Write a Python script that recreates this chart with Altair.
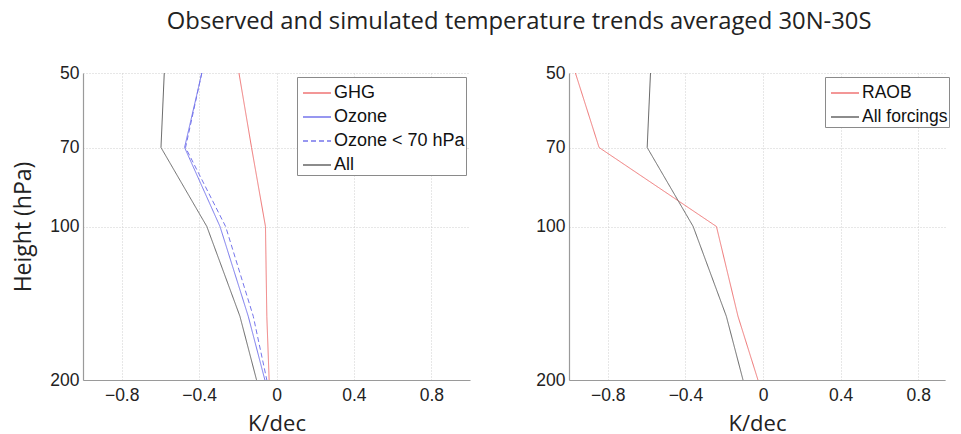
import altair as alt
import pandas as pd

# pressure levels (hPa)
levels = [50, 70, 100, 150, 200]

# left panel: simulated trends (K/dec)
ghg = [-0.194, -0.129, -0.057, -0.050, -0.038]
ozone = [-0.386, -0.475, -0.292, -0.146, -0.060]
ozone70 = [-0.386, -0.470, -0.263, -0.120, -0.050]
all_left = [-0.580, -0.597, -0.360, -0.189, -0.103]

# right panel: observed vs all forcings (K/dec)
raob = [-0.967, -0.845, -0.240, -0.129, -0.026]
all_forcings = [-0.580, -0.597, -0.360, -0.189, -0.103]

left_series = ["GHG", "Ozone", "Ozone < 70 hPa", "All"]
left_values = [ghg, ozone, ozone70, all_left]
left_colors = ["#ef7676", "#7676ec", "#7676ec", "#676767"]
left_dash = [[1, 0], [1, 0], [5, 3], [1, 0]]

right_series = ["RAOB", "All forcings"]
right_values = [raob, all_forcings]
right_colors = ["#ef7676", "#676767"]
right_dash = [[1, 0], [1, 0]]

x_ticks = [-0.8, -0.4, 0, 0.4, 0.8]
y_ticks = [50, 70, 100, 200]

TITLE = "Observed and simulated temperature trends averaged 30N-30S"


def make_df(series, values):
    rows = []
    for s, vals in zip(series, values):
        for p, v in zip(levels, vals):
            rows.append({"series": s, "p": p, "value": v})
    return pd.DataFrame(rows)


def panel(series, values, colors, dashes, legend_x, ytitle, width, xmax, legend_font):
    df = make_df(series, values)
    leg = alt.Legend(
        title=None,
        orient="none",
        legendX=legend_x,
        legendY=4,
        symbolType="stroke",
        symbolSize=784,
        symbolStrokeWidth=1.5,
        symbolOffset=4,
        labelFont="Liberation Sans",
        labelFontSize=legend_font,
        labelColor="#111",
        labelOffset=2,
        rowPadding=-3.5,
        padding=1,
        strokeColor="#8a8a8a",
        fillColor="white",
    )
    yaxis_kwargs = dict(
        values=y_ticks,
        format="d",
        labelPadding=4,
        grid=True,
    )
    if ytitle:
        yaxis_kwargs["title"] = ytitle
        yaxis_kwargs["titlePadding"] = 14
        yaxis_kwargs["titleFontSize"] = 23
    else:
        yaxis_kwargs["title"] = None
    return (
        alt.Chart(df)
        .mark_line(strokeWidth=1, clip=True)
        .encode(
            x=alt.X(
                "value:Q",
                scale=alt.Scale(domain=[-1, xmax], nice=False, zero=False),
                axis=alt.Axis(
                    values=x_ticks,
                    title="K/dec",
                    titleFontSize=22,
                    labelExpr="datum.value == 0 ? '0' : format(datum.value, '.1f')",
                    labelPadding=6,
                    titlePadding=10,
                    grid=True,
                ),
            ),
            y=alt.Y(
                "p:Q",
                scale=alt.Scale(type="log", domain=[50, 200], reverse=True, nice=False),
                axis=alt.Axis(**yaxis_kwargs),
            ),
            color=alt.Color(
                "series:N",
                scale=alt.Scale(domain=series, range=colors),
                sort=series,
                legend=leg,
            ),
            strokeDash=alt.StrokeDash(
                "series:N",
                scale=alt.Scale(domain=series, range=dashes),
                sort=series,
                legend=leg,
            ),
            order=alt.Order("p:Q"),
        )
        .properties(width=width, height=307)
    )


left = panel(left_series, left_values, left_colors, left_dash, 214, "Height (hPa)", 387, 1.0, 18)
# right panel is cut at the picture's right edge, as in the reference
right = panel(right_series, right_values, right_colors, right_dash, 256, None, 376, 0.938, 17.5)

chart = (
    alt.hconcat(left, right, spacing=65)
    .resolve_scale(color="independent", strokeDash="independent")
    .properties(
        title=alt.Title(
            text=TITLE,
            font="Open Sans",
            fontSize=23.8,
            fontWeight="normal",
            color="#222",
            anchor="middle",
            dx=38,
            offset=30,
        ),
        padding={"left": 4, "top": 2, "right": 0, "bottom": 0},
        background="white",
    )
    .configure_view(stroke=None)
    .configure_axis(
        labelFont="Liberation Sans",
        labelFontSize=17.5,
        labelColor="#222",
        domainColor="#9a9a9a",
        domainWidth=1.2,
        gridColor="#cfcfcf",
        gridDash=[1, 2],
        gridWidth=1,
        ticks=False,
        titleFont="Open Sans",
        titleFontWeight="normal",
        titleColor="#222",
    )
)

chart.save("out.html", embed_options={"renderer": "svg", "actions": False})
